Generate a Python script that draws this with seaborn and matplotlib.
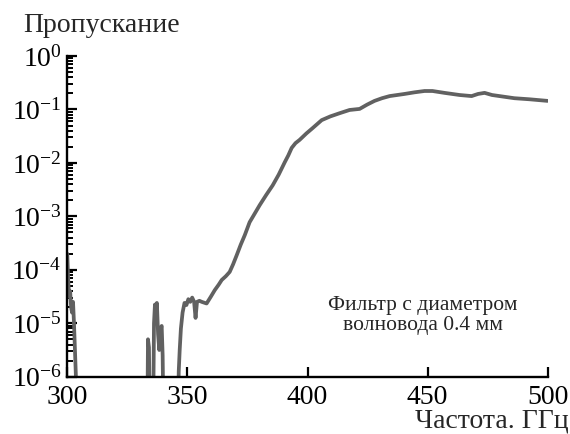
import numpy as np
import pandas as pd
import matplotlib
matplotlib.use("Agg")
import matplotlib.pyplot as plt
import seaborn as sns
from matplotlib.ticker import LogLocator, FixedLocator

# ---- data (frequency in GHz, transmission as log10 exponent) ----
seg1_freq = [300.0, 300.4, 300.8, 301.2, 301.6, 302.0, 302.4, 302.8, 303.2, 303.6, 304.0]
seg1_log = [-3.7, -4.2, -4.5, -4.4, -4.7, -4.8, -4.6, -5.0, -5.5, -6.0, -7.0]

seg2_freq = [333.3, 333.6, 334.0, 334.4]
seg2_log = [-7.0, -5.3, -5.45, -7.0]

seg3_freq = [335.7, 336.1, 336.5, 336.9, 337.3, 337.8, 338.3, 338.8, 339.3, 339.7, 340.1]
seg3_log = [-7.0, -5.0, -4.65, -4.85, -4.62, -5.2, -5.5, -5.1, -5.05, -5.6, -7.0]

seg4_freq = [346.0, 346.4, 346.8, 347.3, 348.0, 348.8, 349.6, 350.4, 351.2, 352.0, 352.8,
             353.4, 354.0, 355.0, 356.0, 358.0, 359.8, 361.4, 363.0, 364.3, 366.0, 367.6,
             369.0, 370.5, 372.2, 373.9, 375.9, 378.0, 380.1, 382.8, 385.5, 388.0, 390.5,
             392.0, 393.4, 395.0, 396.7, 399.5, 402.1, 405.9, 409.5, 413.4, 417.5, 421.7,
             424.8, 427.9, 431.0, 434.2, 437.3, 440.4, 444.5, 448.7, 452.0, 457.0, 463.3,
             468.3, 471.0, 473.7, 476.8, 479.9, 486.1, 492.4, 499.9]
seg4_log = [-7.0, -5.9, -5.5, -5.1, -4.8, -4.62, -4.66, -4.55, -4.6, -4.52, -4.6,
            -4.9, -4.6, -4.58, -4.6, -4.63, -4.5, -4.38, -4.28, -4.19, -4.12, -4.04,
            -3.9, -3.73, -3.53, -3.35, -3.11, -2.95, -2.79, -2.6, -2.42, -2.22, -1.99,
            -1.86, -1.72, -1.63, -1.57, -1.45, -1.35, -1.20, -1.13, -1.07, -1.01, -0.99,
            -0.91, -0.84, -0.79, -0.75, -0.73, -0.71, -0.68, -0.655, -0.655, -0.69, -0.73,
            -0.75, -0.71, -0.69, -0.73, -0.75, -0.79, -0.81, -0.84]

x_ticks = [300, 350, 400, 450, 500]
y_label = "Пропускание"
x_label = "Частота. ГГц"
note = "Фильтр с диаметром\nволновода 0.4 мм"

segments = [(seg1_freq, seg1_log), (seg2_freq, seg2_log),
            (seg3_freq, seg3_log), (seg4_freq, seg4_log)]
rows = []
for i, (f, l) in enumerate(segments):
    for fi, li in zip(f, l):
        rows.append({"freq": fi, "trans": 10.0 ** li, "segment": i})
df = pd.DataFrame(rows)

# ---- style ----
sns.set_style("ticks")
plt.rcParams["font.family"] = ["Liberation Serif", "DejaVu Serif"]
plt.rcParams["mathtext.fontset"] = "custom"
plt.rcParams["mathtext.rm"] = "Liberation Serif"
plt.rcParams["mathtext.it"] = "Liberation Serif:italic"
plt.rcParams["mathtext.bf"] = "Liberation Serif:bold"

fig = plt.figure(figsize=(5.70, 4.34), dpi=100)
ax = fig.add_axes([0.118, 0.132, 0.843, 0.739])

sns.lineplot(data=df, x="freq", y="trans", units="segment", estimator=None,
             color="#616161", linewidth=2.7, ax=ax, legend=False)

ax.set_yscale("log")
ax.set_xlim(300, 500)
ax.set_ylim(1e-6, 1)
ax.xaxis.set_major_locator(FixedLocator(x_ticks))
ax.yaxis.set_major_locator(LogLocator(base=10, numticks=10))
ax.yaxis.set_minor_locator(LogLocator(base=10, subs=np.arange(2, 10), numticks=20))

for s in ["top", "right"]:
    ax.spines[s].set_visible(False)
for s in ["left", "bottom"]:
    ax.spines[s].set_linewidth(1.7)
    ax.spines[s].set_color("black")

ax.tick_params(axis="both", which="major", direction="in", length=7, width=1.6,
               labelsize=20, colors="black", pad=4)
ax.tick_params(axis="y", which="minor", direction="in", length=4, width=1.4, colors="black")
ax.tick_params(axis="x", which="major", pad=6)

ax.set_xlabel("")
ax.set_ylabel("")
fig.text(0.04, 0.942, y_label, fontsize=20, ha="left", va="center")
fig.text(0.997, 0.014, x_label, fontsize=20, ha="right", va="baseline")
ax.text(0.74, 0.19, note, transform=ax.transAxes, fontsize=15.5,
        ha="center", va="center", linespacing=1.1)

fig.savefig("out.png", dpi=100)
